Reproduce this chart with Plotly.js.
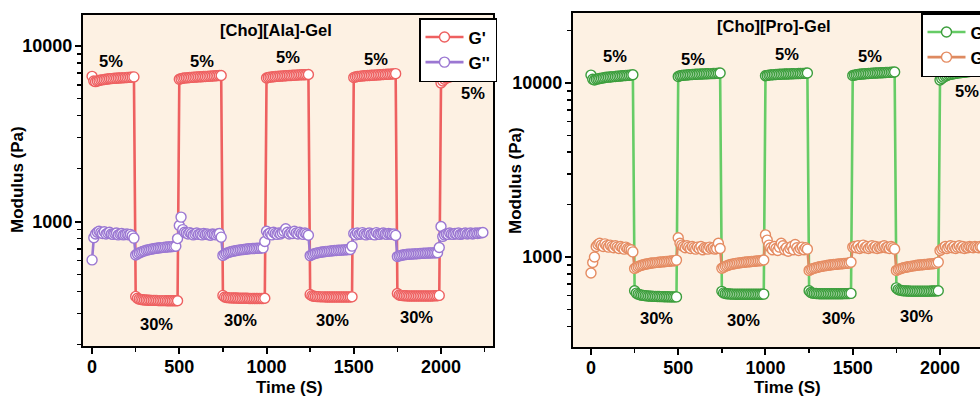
<!DOCTYPE html>
<html>
<head>
<meta charset="utf-8">
<script src="https://cdn.plot.ly/plotly-3.0.1.min.js"></script>
<style>
html,body{margin:0;padding:0;background:#fff;overflow:hidden;}
#chart{width:1010px;height:398px;}
</style>
</head>
<body>
<div id="chart"></div>
<script>
// ---- data ----
const time = [
0,10,20,30,40,50,60,70,80,90,100,110,120,130,140,150,160,170,180,190,200,210,220,230,240,
250,260,270,280,290,300,310,320,330,340,350,360,370,380,390,400,410,420,430,440,450,460,470,480,490,
500,510,520,530,540,550,560,570,580,590,600,610,620,630,640,650,660,670,680,690,700,710,720,730,740,
750,760,770,780,790,800,810,820,830,840,850,860,870,880,890,900,910,920,930,940,950,960,970,980,990,
1000,1010,1020,1030,1040,1050,1060,1070,1080,1090,1100,1110,1120,1130,1140,1150,1160,1170,1180,1190,1200,1210,1220,1230,1240,
1250,1260,1270,1280,1290,1300,1310,1320,1330,1340,1350,1360,1370,1380,1390,1400,1410,1420,1430,1440,1450,1460,1470,1480,1490,
1500,1510,1520,1530,1540,1550,1560,1570,1580,1590,1600,1610,1620,1630,1640,1650,1660,1670,1680,1690,1700,1710,1720,1730,1740,
1750,1760,1770,1780,1790,1800,1810,1820,1830,1840,1850,1860,1870,1880,1890,1900,1910,1920,1930,1940,1950,1960,1970,1980,1990,
2000,2010,2020,2030,2040,2050,2060,2070,2080,2090,2100,2110,2120,2130,2140,2150,2160,2170,2180,2190,2200,2210,2220,2230,2240
];

const alaGp = [
6700,6300,6250,6300,6350,6380,6400,6430,6450,6470,6490,6500,6520,6530,6540,6550,6560,6570,6580,6590,6600,6610,6620,6630,6650,
375,366,362,360,359,358,358,357,357,356,356,356,356,355,355,355,355,355,354,354,354,354,354,354,354,
6450,6500,6530,6550,6570,6580,6600,6610,6620,6630,6640,6650,6660,6670,6680,6690,6700,6710,6720,6730,6740,6750,6760,6770,6780,
380,372,370,369,368,368,367,367,367,366,366,366,366,366,366,365,365,365,365,365,365,365,365,365,366,
6550,6600,6630,6650,6670,6690,6700,6710,6720,6730,6740,6750,6760,6770,6780,6790,6800,6810,6820,6830,6835,6840,6845,6850,6860,
385,378,376,375,374,374,373,373,373,372,372,372,372,372,372,372,372,372,372,372,372,372,372,372,373,
6600,6650,6680,6700,6720,6740,6750,6760,6770,6780,6790,6800,6810,6820,6830,6840,6850,6860,6870,6880,6890,6900,6910,6920,6940,
390,382,380,379,378,378,377,377,377,377,377,377,377,377,377,377,377,377,377,377,377,378,378,378,380,
6150,6300,6450,6550,6600,6650,6700,6730,6760,6780,6800,6820,6840,6860,6880,6890,6900,6920,6940,6950,6970,6980,7000,7020,7040
];

const alaGpp = [
605,810,850,870,880,865,855,875,850,860,870,850,845,855,860,840,850,855,840,845,850,840,845,830,805,
645,655,663,670,676,681,686,690,694,697,700,703,705,707,709,711,713,715,716,718,719,720,722,724,800,
950,1060,900,870,860,850,865,855,840,850,860,845,850,840,855,845,850,840,835,850,845,840,850,855,815,
642,652,660,666,671,675,679,682,685,688,690,692,694,696,698,700,701,702,703,704,705,706,707,708,770,
880,850,860,840,870,855,845,860,850,865,880,910,870,850,865,855,880,860,850,870,855,845,860,850,835,
640,648,654,659,663,666,669,671,673,675,677,679,681,682,684,685,686,687,688,689,690,691,692,693,725,
855,840,860,845,850,865,850,840,855,860,845,850,840,865,850,845,855,860,850,845,855,850,845,850,834,
632,638,642,645,647,649,651,652,653,654,655,656,657,658,659,660,660,661,662,662,663,663,664,665,712,
937,823,840,850,845,860,850,845,855,850,860,845,850,855,860,850,855,860,850,855,860,855,860,862,866
];

const proGp = [
11100,10500,10400,10500,10550,10600,10650,10700,10750,10780,10800,10830,10850,10880,10900,10920,10950,10970,11000,11020,11040,11060,11080,11100,11150,
640,620,612,607,604,602,600,598,597,596,595,594,594,593,593,592,592,591,591,591,590,590,590,590,590,
10900,11000,11050,11080,11100,11120,11140,11160,11180,11200,11220,11230,11240,11250,11260,11280,11290,11300,11310,11320,11330,11340,11360,11380,11400,
635,622,617,615,614,613,612,612,611,611,611,611,611,611,611,611,611,611,611,611,611,611,611,611,612,
11000,11050,11100,11130,11150,11170,11190,11200,11220,11230,11240,11250,11260,11270,11280,11290,11300,11310,11320,11330,11340,11350,11360,11380,11400,
640,625,620,618,617,616,615,615,615,615,615,615,615,615,615,615,615,615,615,615,616,616,616,617,618,
11050,11100,11150,11200,11230,11250,11270,11290,11310,11330,11350,11370,11390,11400,11420,11430,11440,11450,11460,11480,11500,11510,11530,11540,11560,
665,650,645,642,640,639,638,638,637,637,637,637,637,637,637,637,637,637,637,637,638,638,638,639,640,
10400,10600,10800,10950,11050,11150,11200,11250,11300,11350,11400,11430,11460,11500,11530,11560,11600,11630,11660,11700,11730,11760,11800,11830,11870
];

const proGpp = [
810,930,1000,1150,1180,1200,1170,1150,1190,1160,1140,1170,1150,1130,1160,1140,1120,1150,1130,1110,1140,1120,1110,1100,1070,
860,872,882,890,897,903,908,912,916,920,923,926,929,932,934,936,938,940,942,944,946,948,950,952,960,
1290,1200,1170,1150,1130,1160,1140,1120,1150,1130,1110,1140,1120,1150,1100,1130,1120,1110,1140,1120,1130,1110,1120,1200,1120,
862,874,884,892,899,905,910,914,918,922,925,928,931,934,936,938,940,942,944,946,948,950,952,955,962,
1340,1250,1170,1130,1100,1150,1120,1090,1140,1200,1160,1100,1130,1080,1120,1150,1100,1180,1130,1090,1120,1140,1100,1130,1110,
838,848,856,863,869,874,879,883,887,890,893,896,899,902,905,907,909,911,913,915,917,919,921,923,935,
1140,1150,1130,1160,1120,1140,1170,1130,1150,1120,1140,1160,1130,1150,1120,1140,1130,1150,1160,1130,1140,1120,1150,1130,1110,
838,847,855,861,867,872,876,880,884,887,890,893,896,899,901,903,905,907,909,911,913,915,917,920,935,
1090,1110,1130,1150,1120,1140,1160,1130,1150,1120,1140,1160,1130,1150,1120,1140,1130,1150,1140,1130,1150,1140,1130,1150,1140
];

const seriesNames = ["G'", "G''"];
const panelTitles = ["[Cho][Ala]-Gel", "[Cho][Pro]-Gel"];
const strainLow = "5%";
const strainHigh = "30%";
// label anchor positions [time, log10 modulus]
const alaLowLabels = [[109,3.911],[632,3.911],[1121,3.936],[1627,3.925],[2185,3.733]];
const alaHighLabels = [[371,2.417],[850,2.438],[1379,2.438],[1857,2.455]];
const proLowLabels = [[136,4.157],[584,4.136],[1123,4.167],[1597,4.157],[2153,3.956]];
const proHighLabels = [[376,2.651],[875,2.638],[1420,2.650],[1868,2.659]];
const xTitle = "Time (S)";
const yTitle = "Modulus (Pa)";

// ---- layout helpers ----
const W = 1010, H = 398;
const px = v => v / W;
const py = v => 1 - v / H;
const FONT = "Liberation Sans, Arial, sans-serif";
const bold = (s) => ({family: FONT, size: s, color: '#000', weight: 'bold'});

function mk(x, y, name, lineColor, markColor, xa, ya, leg) {
  return {
    x: x, y: y, name: name, type: 'scatter', mode: 'lines+markers',
    xaxis: xa, yaxis: ya, legend: leg,
    line: {color: lineColor, width: 2.6},
    marker: {symbol: 'circle', size: 10, color: '#ffffff', line: {color: markColor, width: 1.4}}
  };
}

const traces = [
  mk(time, alaGp, seriesNames[0], '#EE6060', '#EE6060', 'x', 'y', 'legend'),
  mk(time, alaGpp, seriesNames[1], '#9B77D2', '#9B77D2', 'x', 'y', 'legend'),
  mk(time, proGp, seriesNames[0], '#66CC66', '#3C9E3C', 'x2', 'y2', 'legend2'),
  mk(time, proGpp, seriesNames[1], '#DE8A60', '#E58C62', 'x2', 'y2', 'legend2')
];

const minorLog = [200,300,400,500,600,700,800,900,2000,3000,4000,5000,6000,7000,8000,9000,20000,30000];

function xax(domain, range, anchor) {
  return {
    domain: domain, range: range, anchor: anchor,
    showline: true, linecolor: '#000', linewidth: 2, mirror: true,
    ticks: 'outside', ticklen: 6, tickwidth: 2, tickcolor: '#000',
    tick0: 0, dtick: 500,
    minor: {dtick: 250, tick0: 0, ticks: 'outside', ticklen: 4, tickwidth: 1.5, tickcolor: '#000'},
    tickfont: bold(18), showgrid: false, zeroline: false, ticklabelstandoff: -3
  };
}
function yax(domain, range, anchor) {
  return {
    type: 'log', domain: domain, range: range, anchor: anchor,
    showline: true, linecolor: '#000', linewidth: 2, mirror: true,
    ticks: 'outside', ticklen: 6, tickwidth: 2, tickcolor: '#000',
    tickvals: [1000, 10000], ticktext: ['1000', '10000'],
    minor: {tickvals: minorLog, ticks: 'outside', ticklen: 4, tickwidth: 1.5, tickcolor: '#000'},
    tickfont: bold(18), showgrid: false, zeroline: false, ticklabelstandoff: -1
  };
}

const ann = [];
function addLabels(list, text, xr, yr) {
  list.forEach(p => ann.push({x: p[0], y: p[1], xref: xr, yref: yr, text: text,
    showarrow: false, font: bold(16.5), xanchor: 'center', yanchor: 'middle'}));
}
addLabels(alaLowLabels, strainLow, 'x', 'y');
addLabels(alaHighLabels, strainHigh, 'x', 'y');
addLabels(proLowLabels, strainLow, 'x2', 'y2');
addLabels(proHighLabels, strainHigh, 'x2', 'y2');

const paperText = (x, y, text, size, rot) => ({x: px(x), y: py(y), xref: 'paper', yref: 'paper',
  text: text, showarrow: false, font: bold(size), xanchor: 'center', yanchor: 'middle', textangle: rot || 0});
ann.push(paperText(276, 30, panelTitles[0], 16.5));
ann.push(paperText(774, 26, panelTitles[1], 16.5));
ann.push(paperText(289, 387.5, xTitle, 17));
ann.push(paperText(787, 387.5, xTitle, 17));
ann.push(paperText(18, 180, yTitle, 17, -90));
ann.push(paperText(515, 181, yTitle, 17, -90));

const legStyle = (x, y) => ({
  x: px(x), y: py(y), xanchor: 'left', yanchor: 'top',
  bgcolor: '#ffffff', bordercolor: '#000', borderwidth: 1.5,
  font: bold(17), itemwidth: 38, tracegroupgap: 0
});

const layout = {
  width: W, height: H,
  margin: {l: 0, r: 0, t: 0, b: 0},
  paper_bgcolor: '#ffffff', plot_bgcolor: '#FDF1E3',
  showlegend: true,
  xaxis: xax([px(83), px(493)], [-52, 2298], 'y'),
  yaxis: yax([py(346), py(15)], [2.292, 4.175], 'x'),
  xaxis2: xax([px(573), px(999)], [-103, 2338], 'y2'),
  yaxis2: yax([py(347), py(13)], [2.483, 4.402], 'x2'),
  legend: legStyle(419, 18),
  legend2: legStyle(921, 13),
  annotations: ann
};

Plotly.newPlot('chart', traces, layout, {staticPlot: true, displayModeBar: false});
</script>
</body>
</html>
